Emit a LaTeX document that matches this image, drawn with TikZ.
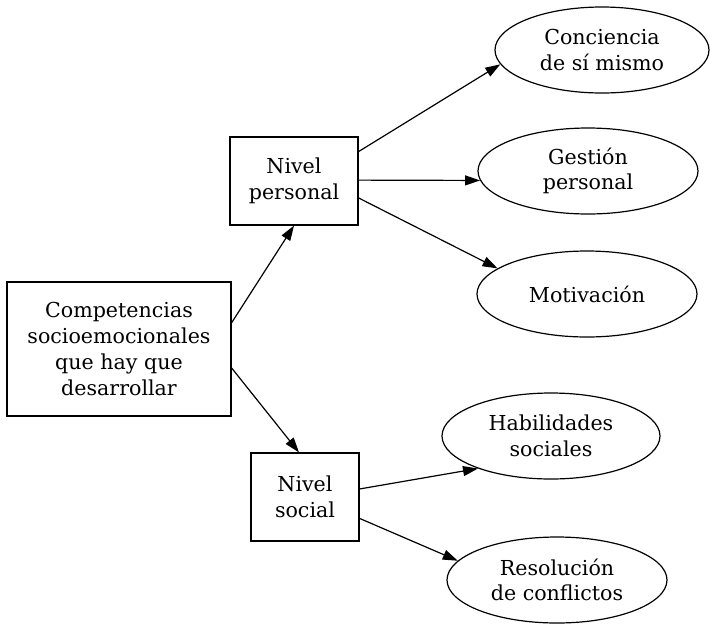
\documentclass[tikz,border=0pt]{standalone}
\usepackage{fontspec}
\setmainfont{DejaVu Serif}
\usetikzlibrary{shapes.geometric,arrows.meta,calc}
\begin{document}
\begin{tikzpicture}[x=1pt,y=-1pt,
  lbl/.style={align=center,font=\fontsize{20.6}{25.7}\selectfont},
  box/.style={lbl,draw,line width=1.2pt,rectangle,inner sep=0pt},
  ell/.style={lbl,draw,line width=1.2pt,ellipse,inner sep=0pt,minimum height=86pt},
  arr/.style={line width=1.2pt,-{Triangle[length=15pt,width=10pt]}}]
\useasboundingbox (0,0) rectangle (710,625);
\node[box,minimum width=224pt,minimum height=134pt] (comp) at (119,349) {Competencias\\socioemocionales\\que hay que\\desarrollar};
\node[box,minimum width=128pt,minimum height=88pt] (np) at (294,181) {Nivel\\personal};
\node[box,minimum width=108pt,minimum height=88pt] (ns) at (305,497) {Nivel\\social};
\node[ell,minimum width=214pt] (conc) at (602,50) {Conciencia\\de sí mismo};
\node[ell,minimum width=220pt] (gest) at (588,171) {Gestión\\personal};
\node[ell,minimum width=220pt] (moti) at (587,294) {Motivación};
\node[ell,minimum width=218pt] (habi) at (551,436) {Habilidades\\sociales};
\node[ell,minimum width=220pt] (reso) at (557,580) {Resolución\\de conflictos};
\draw[arr] ($(comp.north east)!0.306!(comp.south east)$) -- (np.south);
\draw[arr] ($(comp.north east)!0.64!(comp.south east)$) -- ($(ns.north)+(-6,0)$);
\draw[arr] ($(np.north east)!0.17!(np.south east)$) -- (conc.188);
\draw[arr] ($(np.north east)!0.49!(np.south east)$) -- (gest.185);
\draw[arr] ($(np.north east)!0.69!(np.south east)$) -- (moti.164);
\draw[arr] ($(ns.north east)!0.41!(ns.south east)$) -- (habi.204);
\draw[arr] ($(ns.north east)!0.74!(ns.south east)$) -- (reso.169);
\end{tikzpicture}
\end{document}
